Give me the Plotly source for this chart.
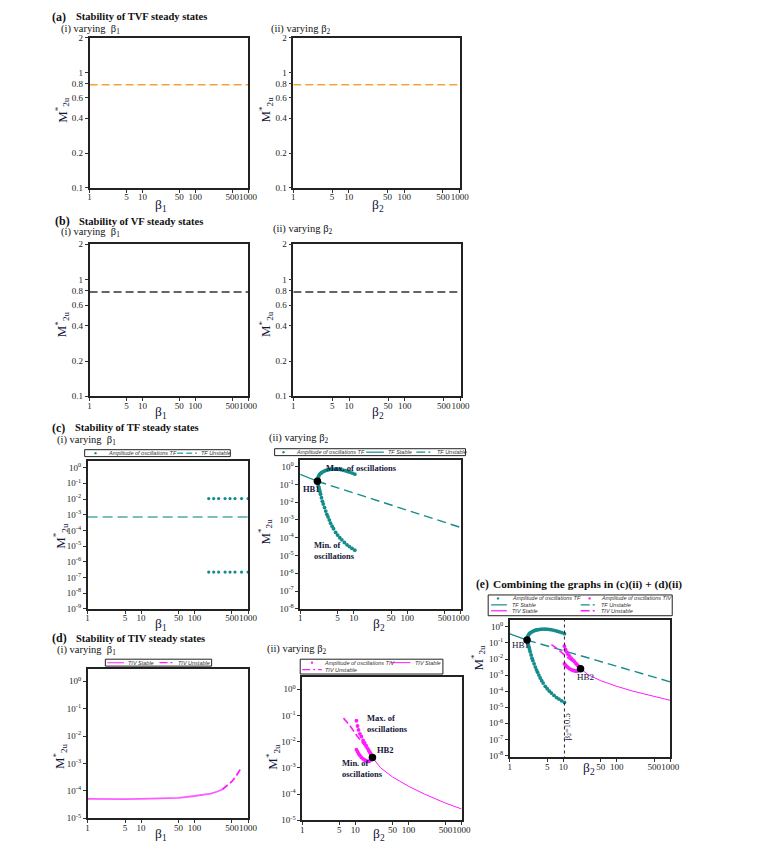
import plotly.graph_objects as go

W, H = 758, 849

# ------------------------- data -------------------------
beta_ticks = [1, 5, 10, 50, 100, 500, 1000]
beta_ticktext = ["1", "5", "10", "50", "100", "500", "1000"]
m2u_lin_ticks = [0.1, 0.2, 0.4, 0.6, 0.8, 1, 2]
m2u_lin_ticktext = ["0.1", "0.2", "0.4", "0.6", "0.8", "1", "2"]
decade_ticks = [1, 1e-1, 1e-2, 1e-3, 1e-4, 1e-5, 1e-6, 1e-7, 1e-8, 1e-9]
decade_ticktext = ["10<sup>0</sup>", "10<sup>-1</sup>", "10<sup>-2</sup>", "10<sup>-3</sup>",
                   "10<sup>-4</sup>", "10<sup>-5</sup>", "10<sup>-6</sup>", "10<sup>-7</sup>",
                   "10<sup>-8</sup>", "10<sup>-9</sup>"]

beta_span = [1, 1000]
# (a) TVF, (b) VF steady states
tvf_beta1_y = [0.78, 0.78]
tvf_beta2_y = [0.78, 0.78]
vf_beta1_y = [0.78, 0.78]
vf_beta2_y = [0.78, 0.78]

# (c)(i) TF varying beta1
tf_b1_unstable_y = [7.0e-4, 7.0e-4]
tf_b1_osc_x = [184, 228, 282, 372, 460, 570, 757, 1000]
tf_b1_osc_max = [0.0107, 0.0107, 0.0107, 0.0107, 0.0107, 0.0107, 0.0107, 0.0107]
tf_b1_osc_min = [2.2e-7, 2.2e-7, 2.2e-7, 2.2e-7, 2.2e-7, 2.2e-7, 2.2e-7, 2.2e-7]

# (c)(ii) TF varying beta2
tf_b2_stable_x = [1, 1.5, 2.1]
tf_b2_stable_y = [0.37, 0.23, 0.151]
tf_b2_unstable_x = [2.1, 5, 10, 50, 100, 500, 1000]
tf_b2_unstable_y = [0.151, 0.065, 0.033, 0.007, 0.0036, 0.00075, 0.00038]
tf_b2_max_x = [2.1, 2.13, 2.17, 2.22, 2.3, 2.4, 2.5, 2.65, 2.8, 3.0, 3.2, 3.4, 3.7, 4.0,
               4.4, 4.8, 5.3, 5.8, 6.4, 7.0, 7.7, 8.5, 9.4, 10.5]
tf_b2_max_y = [0.151, 0.200, 0.251, 0.302, 0.363, 0.417, 0.457, 0.513, 0.562, 0.617, 0.646,
               0.676, 0.708, 0.724, 0.733, 0.724, 0.708, 0.676, 0.631, 0.589, 0.537, 0.490,
               0.437, 0.380]
tf_b2_min_x = [2.1, 2.13, 2.17, 2.2, 2.25, 2.3, 2.35, 2.4, 2.5, 2.6, 2.7, 2.85, 3.0, 3.15,
               3.3, 3.5, 3.7, 3.95, 4.2, 4.6, 5.0, 5.5, 6.0, 6.7, 7.5, 8.3, 9.3, 10.5]
tf_b2_min_y = [0.151, 0.126, 0.1, 0.0794, 0.0631, 0.0501, 0.038, 0.0282, 0.0178, 0.0112,
               0.00794, 0.00501, 0.00316, 0.00209, 0.00151, 0.001, 6.6e-4, 4.5e-4, 3.2e-4,
               2.0e-4, 1.41e-4, 1.0e-4, 7.6e-5, 5.4e-5, 4.0e-5, 3.2e-5, 2.5e-5, 2.0e-5]
hb1_x = [2.1]
hb1_y = [0.151]

# (d)(i) TIV varying beta1
tiv_b1_stable_x = [1, 2, 5, 10, 20, 50, 100, 150, 200, 260, 330]
tiv_b1_stable_y = [5.1e-5, 5.0e-5, 5.0e-5, 5.1e-5, 5.2e-5, 5.6e-5, 6.5e-5, 7.1e-5, 7.9e-5,
                   9.3e-5, 1.12e-4]
tiv_b1_unstable_x = [330, 400, 500, 600, 720]
tiv_b1_unstable_y = [1.12e-4, 1.5e-4, 2.2e-4, 3.5e-4, 6.2e-4]

# (d)(ii) TIV varying beta2
tiv_b2_stable_x = [21, 30, 50, 100, 200, 500, 1000]
tiv_b2_stable_y = [2.5e-3, 1.0e-3, 4.5e-4, 2.0e-4, 1.0e-4, 4.5e-5, 2.7e-5]
tiv_b2_unstable_x = [6, 8, 11, 15, 18.4, 21]
tiv_b2_unstable_y = [0.0794, 0.0398, 0.0158, 0.00708, 0.00355, 0.0025]
tiv_b2_max_x = [10.5, 11, 11.5, 12.2, 13, 14, 15, 16, 17, 18, 19, 20, 21]
tiv_b2_max_y = [0.0631, 0.0398, 0.0282, 0.020, 0.0158, 0.0112, 0.0089, 0.0071, 0.0056,
                0.0046, 0.0038, 0.0032, 0.0025]
tiv_b2_min_x = [10.5, 11, 11.5, 12.2, 13, 14, 15, 16, 17, 18, 19, 20, 21]
tiv_b2_min_y = [0.0050, 0.0042, 0.0035, 0.0030, 0.0025, 0.0022, 0.0020, 0.00186, 0.00178,
                0.00178, 0.0019, 0.00214, 0.0025]
hb2_x = [21]
hb2_y = [0.0025]
beta2_critical = 10.5

# ------------------------- styles -------------------------
ORANGE = "#f2a43a"
TEAL = "#148c8c"
TEAL_LIGHT = "#4fa9a9"
MAGENTA = "#ff1aff"
MAGENTA_LIGHT = "#ff5cff"
SERIF = "Liberation Serif"
SANS = "Liberation Sans"
TXT = "#15153a"

fig = go.Figure()
shapes = []
annotations = []


def px(x):
    return x / W


def py(y):
    return 1 - y / H


# panel pixel boxes (left, right, top, bottom)
panels = {
    1: (89, 250, 33, 185),
    2: (296, 465, 33, 185),
    3: (89, 250, 242, 396),
    4: (296, 466, 242, 396),
    5: (87, 250, 461, 611),
    6: (303, 466, 460, 611),
    7: (87, 250, 672, 823),
    8: (305, 467, 680, 825),
    9: (516, 679, 622, 761),
}
yranges = {5: [-9, 0.45], 6: [-8, 0.4], 7: [-5, 0.44], 8: [-5, 0.47], 9: [-8.1, 0.45]}

layout_axes = {}
for k, (l, r, t, b) in panels.items():
    xs = "xaxis" if k == 1 else f"xaxis{k}"
    ys = "yaxis" if k == 1 else f"yaxis{k}"
    xa = "x" if k == 1 else f"x{k}"
    ya = "y" if k == 1 else f"y{k}"
    common = dict(ticks="outside", ticklen=3, tickwidth=1, tickcolor="#333",
                  showline=True, linecolor="#222", linewidth=1.5, mirror=True,
                  showgrid=False, zeroline=False, tickangle=0,
                  tickfont=dict(family=SERIF, size=9, color="#222"))
    layout_axes[xs] = dict(domain=[px(l), px(r)], anchor=ya, type="log", range=[0, 3],
                           tickvals=beta_ticks, ticktext=beta_ticktext,
                           ticklabelstandoff=-3, **common)
    if k <= 4:
        yextra = dict(range=[-1, 0.30103], tickvals=m2u_lin_ticks, ticktext=m2u_lin_ticktext)
    else:
        yextra = dict(range=yranges[k], tickvals=decade_ticks, ticktext=decade_ticktext)
    layout_axes[ys] = dict(domain=[py(b), py(t)], anchor=xa, type="log", **yextra, **common)


def ax(k):
    return ("x", "y") if k == 1 else (f"x{k}", f"y{k}")


def line(k, x, y, color, dash="solid", width=1.3, name=""):
    xa, ya = ax(k)
    fig.add_trace(go.Scatter(x=x, y=y, mode="lines", xaxis=xa, yaxis=ya, name=name,
                             line=dict(color=color, width=width, dash=dash),
                             showlegend=False, hoverinfo="skip"))


def dots(k, x, y, color, size=3.6, name=""):
    xa, ya = ax(k)
    fig.add_trace(go.Scatter(x=x, y=y, mode="markers", xaxis=xa, yaxis=ya, name=name,
                             marker=dict(color=color, size=size, line=dict(width=0)),
                             showlegend=False, hoverinfo="skip"))


# (a) TVF
line(1, beta_span, tvf_beta1_y, ORANGE, "8px,4px", 1.5, "TVF")
line(2, beta_span, tvf_beta2_y, ORANGE, "8px,4px", 1.5, "TVF")
# (b) VF
line(3, beta_span, vf_beta1_y, "#333", "8px,4px", 1.5, "VF")
line(4, beta_span, vf_beta2_y, "#333", "8px,4px", 1.5, "VF")
# (c)(i)
line(5, beta_span, tf_b1_unstable_y, TEAL_LIGHT, "10px,5px", 1.5, "TF Unstable")
dots(5, tf_b1_osc_x, tf_b1_osc_max, TEAL, 3.2, "Amplitude of oscillations TF")
dots(5, tf_b1_osc_x, tf_b1_osc_min, TEAL, 3.2, "Amplitude of oscillations TF")
# (c)(ii) and (e)
for k in (6, 9):
    line(k, tf_b2_stable_x, tf_b2_stable_y, TEAL, "solid", 1.2, "TF Stable")
    line(k, tf_b2_unstable_x, tf_b2_unstable_y, TEAL, "9px,5px", 1.4, "TF Unstable")
    dots(k, tf_b2_max_x, tf_b2_max_y, TEAL, 3.8, "Amplitude of oscillations TF")
    dots(k, tf_b2_min_x, tf_b2_min_y, TEAL, 3.8, "Amplitude of oscillations TF")
# (d)(i)
line(7, tiv_b1_stable_x, tiv_b1_stable_y, MAGENTA_LIGHT, "solid", 1.8, "TIV Stable")
line(7, tiv_b1_unstable_x, tiv_b1_unstable_y, MAGENTA, "7px,3px", 1.8, "TIV Unstable")
# (d)(ii) and (e)
for k in (8, 9):
    line(k, tiv_b2_stable_x, tiv_b2_stable_y, MAGENTA, "solid", 1.0, "TIV Stable")
    line(k, tiv_b2_unstable_x, tiv_b2_unstable_y, MAGENTA, "7px,3px", 1.6, "TIV Unstable")
    dots(k, tiv_b2_max_x, tiv_b2_max_y, MAGENTA, 3.8, "Amplitude of oscillations TIV")
    dots(k, tiv_b2_min_x, tiv_b2_min_y, MAGENTA, 3.8, "Amplitude of oscillations TIV")
# Hopf points
for k in (6, 9):
    dots(k, hb1_x, hb1_y, "black", 7.5, "HB1")
for k in (8, 9):
    dots(k, hb2_x, hb2_y, "black", 7.5, "HB2")
# critical beta2 line in (e)
line(9, [beta2_critical, beta2_critical], [1e-9, 10], "#222", "dot", 1.0, "β2=10.5")


# ------------------------- text -------------------------
def text(x, y, s, size=11, bold=False, color="#111", xanchor="left", yanchor="middle",
         angle=0, family=SERIF, align="left"):
    annotations.append(dict(xref="paper", yref="paper", x=px(x), y=py(y),
                            text=f"<b>{s}</b>" if bold else s, showarrow=False,
                            xanchor=xanchor, yanchor=yanchor, textangle=angle, align=align,
                            font=dict(family=family, size=size, color=color), borderpad=0))


# panel headings
text(50, 12, "(a)", 12, True)
text(74, 12, "Stability of TVF steady states", 10.5, True)
text(59, 25, "(i) varying  β<sub>1</sub>", 10.5)
text(272, 25, "(ii) varying β<sub>2</sub>", 10.5)

text(53, 219, "(b)", 12, True)
text(77, 219, "Stability of VF steady states", 10.5, True)
text(59, 230, "(i) varying  β<sub>1</sub>", 10.5)
text(274, 227, "(ii) varying β<sub>2</sub>", 10.5)

text(50, 428, "(c)", 12, True)
text(73, 428, "Stability of TF steady states", 10.5, True)
text(55, 441, "(i) varying  β<sub>1</sub>", 10.5)
text(270, 439, "(ii) varying β<sub>2</sub>", 10.5)

text(50, 641, "(d)", 12, True)
text(74, 641, "Stability of TIV steady states", 10.5, True)
text(55, 653, "(i) varying  β<sub>1</sub>", 10.5)
text(268, 652, "(ii) varying β<sub>2</sub>", 10.5)

text(481, 586, "(e)", 11.5, True)
text(498, 586, "Combining the graphs in (c)(ii) + (d)(ii)", 11.3, True)

# axis titles
xtitle_pos = [(162, 203, "β<sub>1</sub>"), (382, 203, "β<sub>2</sub>"),
              (162, 412, "β<sub>1</sub>"), (382, 412, "β<sub>2</sub>"),
              (162, 627, "β<sub>1</sub>"), (383, 627, "β<sub>2</sub>"),
              (162, 839, "β<sub>1</sub>"), (383, 839, "β<sub>2</sub>"),
              (596, 773, "β<sub>2</sub>")]
for (x, y, s) in xtitle_pos:
    text(x, y, s, 13.5, False, TXT, xanchor="center")
ytitle_pos = [(61, 106), (268, 106), (61, 323), (268, 323), (59, 537), (267, 533),
              (59, 760), (275, 761), (484, 660)]
for (x, y) in ytitle_pos:
    text(x, y, "M<sup>*</sup><sub>2u</sub>", 13, False, TXT, xanchor="center", angle=-90)

# in-plot labels
text(328, 469, "Max. of oscillations", 8.5, True, TXT)
text(305, 490, "HB1", 8.5, True, TXT)
text(316, 552, "Min. of<br>oscillations", 8.5, True, TXT)
text(370, 727, "Max. of<br>oscillations", 8.5, True, TXT)
text(380, 754, "HB2", 8.5, True, TXT)
text(344, 773, "Min. of<br>oscillations", 8.5, True, TXT)
text(517, 648, "HB1", 9, False, TXT)
text(583, 680, "HB2", 9, False, TXT)
text(574, 730, "β<sub>2</sub>=10.5", 8.5, False, TXT, xanchor="center", angle=-90)


# ------------------------- legends -------------------------
def leg_box(x0, y0, x1, y1):
    shapes.append(dict(type="rect", xref="paper", yref="paper", x0=px(x0), x1=px(x1),
                       y0=py(y1), y1=py(y0), line=dict(color="#222", width=1),
                       fillcolor="white", layer="above"))


def leg_line(x0, x1, y, color, dash="solid", width=1.3):
    shapes.append(dict(type="line", xref="paper", yref="paper", x0=px(x0), x1=px(x1),
                       y0=py(y), y1=py(y), line=dict(color=color, width=width, dash=dash),
                       layer="above"))


def leg_marker(x, y, color):
    r = 1.2
    shapes.append(dict(type="circle", xref="paper", yref="paper", x0=px(x - r),
                       x1=px(x + r), y0=py(y + r), y1=py(y - r), fillcolor=color,
                       line=dict(width=0), layer="above"))


def leg_text(x, y, s):
    annotations.append(dict(xref="paper", yref="paper", x=px(x), y=py(y), text=s,
                            showarrow=False, xanchor="left", yanchor="middle", borderpad=0,
                            font=dict(family=SANS, size=5.5, color="#333", style="italic")))


# (c)(i)
leg_box(84, 450, 232, 457)
leg_marker(95, 453.5, TEAL)
leg_text(107, 453.5, "Amplitude of oscillations TF")
leg_line(178, 198, 453.5, TEAL_LIGHT, "6px,3px", 1.5)
leg_text(201, 453.5, "TF Unstable")
# (c)(ii)
leg_box(277, 449, 471, 456)
leg_marker(286, 452.5, TEAL)
leg_text(298, 452.5, "Amplitude of oscillations TF")
leg_line(370, 388, 452.5, TEAL, "solid", 1.2)
leg_text(391, 452.5, "TF Stable")
leg_line(421, 438, 452.5, TEAL, "9px,3px,2px,3px", 1.4)
leg_text(441, 452.5, "TF Unstable")
# (d)(i)
leg_box(105, 662, 213, 669)
leg_line(107, 124, 665.5, MAGENTA_LIGHT, "solid", 1.4)
leg_text(127, 665.5, "TIV Stable")
leg_line(160, 175, 665.5, MAGENTA, "8px,3px,2px,3px", 1.4)
leg_text(178, 665.5, "TIV Unstable")
# (d)(ii)
leg_box(303, 662, 448, 677)
leg_marker(315, 665.5, MAGENTA)
leg_text(326, 665.5, "Amplitude of oscillations TIV")
leg_line(395, 415, 665.5, MAGENTA, "solid", 1.0)
leg_text(419, 665.5, "TIV Stable")
leg_line(305, 325, 672.5, MAGENTA, "8px,3px,2px,3px", 1.4)
leg_text(327, 672.5, "TIV Unstable")
# (e)
leg_box(494, 597, 681, 618)
leg_marker(504, 600.5, TEAL)
leg_text(517, 600.5, "Amplitude of oscillations TF")
leg_marker(597, 600.5, MAGENTA)
leg_text(608, 600.5, "Amplitude of oscillations TIV")
leg_line(497, 513, 607, TEAL, "solid", 1.2)
leg_text(517, 607, "TF Stable")
leg_line(588, 605, 607, TEAL, "9px,3px,2px,3px", 1.4)
leg_text(608, 607, "TF Unstable")
leg_line(497, 513, 613, MAGENTA, "solid", 1.2)
leg_text(517, 613, "TIV Stable")
leg_line(588, 605, 613, MAGENTA, "9px,3px,2px,3px", 1.4)
leg_text(608, 613, "TIV Unstable")

fig.update_layout(width=W, height=H, margin=dict(l=0, r=0, t=0, b=0),
                  paper_bgcolor="white", plot_bgcolor="white", showlegend=False,
                  shapes=shapes, annotations=annotations, **layout_axes)

fig.write_html("out.html", config={"displayModeBar": False},
               post_script="document.body.style.margin='0';document.body.style.padding='0';")
